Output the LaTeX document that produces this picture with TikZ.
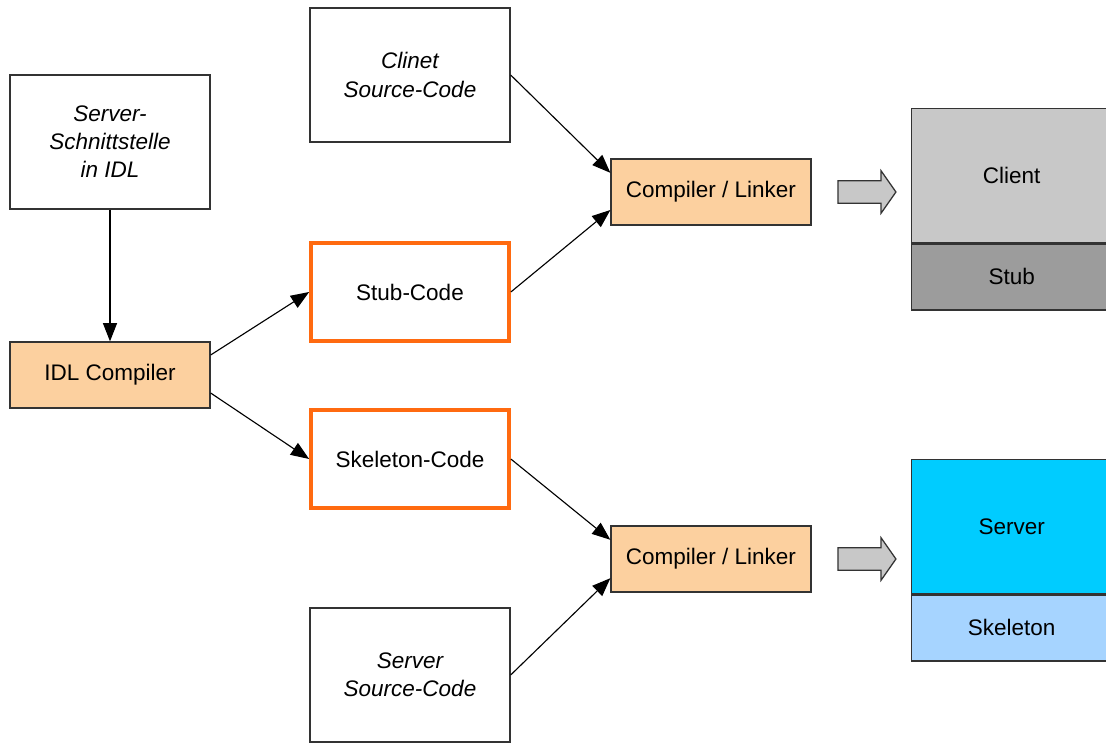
\documentclass[tikz,border=0pt]{standalone}
\usepackage{fontspec}
\setmainfont{Liberation Sans}
\usepackage{xcolor}
\usepackage{tikz}
\usetikzlibrary{shapes.arrows, arrows.meta, positioning}

\definecolor{peach}{HTML}{FCD09F}
\definecolor{codeorange}{HTML}{FF6A10}
\definecolor{clientgray}{HTML}{C8C8C8}
\definecolor{stubgray}{HTML}{9C9C9C}
\definecolor{servercyan}{HTML}{00CCFF}
\definecolor{skelblue}{HTML}{A6D4FF}

\begin{document}
\begin{tikzpicture}[x=0.025cm, y=-0.025cm, every node/.style={font=\fontsize{16}{20}\selectfont}]
        % Define block styles
        \tikzstyle{srcbox} = [rectangle, draw=black!80, line width=0.9pt, fill=white,
                              minimum width=5cm, minimum height=3.35cm, align=center, font=\fontsize{16}{20}\selectfont\itshape]
        \tikzstyle{codebox} = [rectangle, draw=codeorange, line width=2.6pt, fill=white,
                               minimum width=4.95cm, minimum height=2.45cm, align=center]
        \tikzstyle{tool} = [rectangle, draw=black!80, line width=0.9pt, fill=peach,
                            minimum width=5cm, minimum height=1.65cm]
        \tikzstyle{part} = [rectangle, draw=black!80, line width=0.9pt, minimum width=5cm]
        \tikzstyle{fatarrow} = [single arrow, draw=black!80, line width=0.9pt, fill=clientgray,
                                minimum width=0.95cm, minimum height=1.45cm, inner xsep=0pt, inner ysep=7.5pt,
                                single arrow tip angle=110]
        \tikzstyle{arrow} = [line width=0.8pt, -{Triangle[length=13pt, width=10pt]}]

        \useasboundingbox (0,0) rectangle (1106,743);

        % Left column
        \node (iface) [srcbox] at (110,142) {Server-\\Schnittstelle\\in IDL};
        \node (idlc) [tool] at (110,375) {IDL Compiler};

        % Middle column
        \node (clientsrc) [srcbox] at (410,75) {Clinet\\Source-Code};
        \node (stub) [codebox] at (410,292) {Stub-Code};
        \node (skel) [codebox] at (410,459) {Skeleton-Code};
        \node (serversrc) [srcbox] at (410,675) {Server\\Source-Code};

        % Compilers
        \node (cl1) [tool] at (711,192) {Compiler / Linker};
        \node (cl2) [tool] at (711,559) {Compiler / Linker};

        % Results
        \node (go1) [fatarrow] at (863,192) {};
        \node (go2) [fatarrow] at (863,559) {};
        \node (client) [part, fill=clientgray, minimum height=3.35cm, anchor=north west] at (911,108) {Client};
        \node (stubpart) [part, fill=stubgray, minimum height=1.65cm, anchor=north west] at (client.south west) {Stub};
        \node (server) [part, fill=servercyan, minimum height=3.35cm, anchor=north west] at (911,459) {Server};
        \node (skelpart) [part, fill=skelblue, minimum height=1.65cm, anchor=north west] at (server.south west) {Skeleton};

        % Arrows
        \draw [arrow] (iface) -- (idlc);
        \draw [arrow] ([yshift=0.5cm]idlc.east) -- (stub.west);
        \draw [arrow] ([yshift=-0.45cm]idlc.east) -- (skel.west);
        \draw [arrow] (clientsrc.east) -- ([yshift=0.48cm]cl1.west);
        \draw [arrow] (stub.east) -- ([yshift=-0.45cm]cl1.west);
        \draw [arrow] (skel.east) -- ([yshift=0.48cm]cl2.west);
        \draw [arrow] (serversrc.east) -- ([yshift=-0.48cm]cl2.west);
    \end{tikzpicture}
\end{document}
